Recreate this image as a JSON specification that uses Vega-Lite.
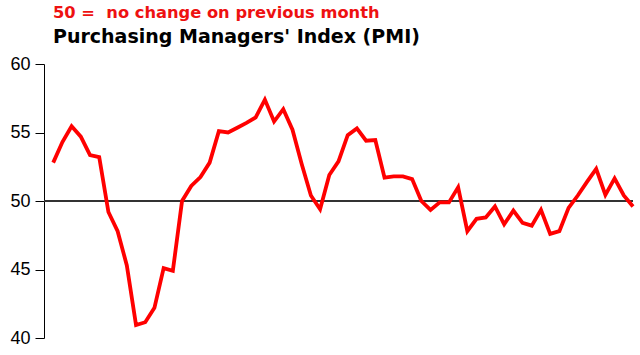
{
  "$schema": "https://vega.github.io/schema/vega-lite/v6.json",
  "autosize": {"type": "none"},
  "width": 589,
  "height": 274,
  "padding": {"left": 44, "top": 64, "right": 7, "bottom": 17},
  "background": "white",
  "title": {
    "text": "50 =\u00a0 no change on previous month",
    "subtitle": "Purchasing Managers' Index (PMI)",
    "anchor": "start",
    "frame": "group",
    "dx": 9,
    "offset": 8.5,
    "font": "DejaVu Sans",
    "fontSize": 16.3,
    "fontWeight": "bold",
    "color": "#ee1111",
    "subtitleFont": "DejaVu Sans",
    "subtitleFontSize": 19,
    "subtitleFontWeight": "bold",
    "subtitleColor": "#000000",
    "subtitlePadding": 6.5
  },
  "data": {
    "values": [
      {"i": 1, "pmi": 52.8}, {"i": 2, "pmi": 54.3}, {"i": 3, "pmi": 55.45}, {"i": 4, "pmi": 54.7},
      {"i": 5, "pmi": 53.35}, {"i": 6, "pmi": 53.2}, {"i": 7, "pmi": 49.2}, {"i": 8, "pmi": 47.8},
      {"i": 9, "pmi": 45.3}, {"i": 10, "pmi": 40.95}, {"i": 11, "pmi": 41.15}, {"i": 12, "pmi": 42.2},
      {"i": 13, "pmi": 45.1}, {"i": 14, "pmi": 44.9}, {"i": 15, "pmi": 50.0}, {"i": 16, "pmi": 51.1},
      {"i": 17, "pmi": 51.75}, {"i": 18, "pmi": 52.8}, {"i": 19, "pmi": 55.1}, {"i": 20, "pmi": 55.0},
      {"i": 21, "pmi": 55.35}, {"i": 22, "pmi": 55.7}, {"i": 23, "pmi": 56.1}, {"i": 24, "pmi": 57.4},
      {"i": 25, "pmi": 55.8}, {"i": 26, "pmi": 56.7}, {"i": 27, "pmi": 55.2}, {"i": 28, "pmi": 52.7},
      {"i": 29, "pmi": 50.4}, {"i": 30, "pmi": 49.4}, {"i": 31, "pmi": 51.9}, {"i": 32, "pmi": 52.9},
      {"i": 33, "pmi": 54.8}, {"i": 34, "pmi": 55.3}, {"i": 35, "pmi": 54.4}, {"i": 36, "pmi": 54.45},
      {"i": 37, "pmi": 51.7}, {"i": 38, "pmi": 51.8}, {"i": 39, "pmi": 51.8}, {"i": 40, "pmi": 51.6},
      {"i": 41, "pmi": 50.0}, {"i": 42, "pmi": 49.35}, {"i": 43, "pmi": 49.9}, {"i": 44, "pmi": 49.9},
      {"i": 45, "pmi": 51.0}, {"i": 46, "pmi": 47.8}, {"i": 47, "pmi": 48.7}, {"i": 48, "pmi": 48.8},
      {"i": 49, "pmi": 49.6}, {"i": 50, "pmi": 48.3}, {"i": 51, "pmi": 49.3}, {"i": 52, "pmi": 48.4},
      {"i": 53, "pmi": 48.2}, {"i": 54, "pmi": 49.35}, {"i": 55, "pmi": 47.6}, {"i": 56, "pmi": 47.8},
      {"i": 57, "pmi": 49.5}, {"i": 58, "pmi": 50.4}, {"i": 59, "pmi": 51.4}, {"i": 60, "pmi": 52.35},
      {"i": 61, "pmi": 50.45}, {"i": 62, "pmi": 51.65}, {"i": 63, "pmi": 50.4}, {"i": 64, "pmi": 49.6}
    ]
  },
  "config": {
    "view": {"stroke": null},
    "axis": {"grid": false}
  },
  "layer": [
    {
      "mark": {"type": "rule", "color": "#333333", "strokeWidth": 1.5},
      "encoding": {"y": {"datum": 50, "type": "quantitative", "scale": {"domain": [40, 60]}}}
    },
    {
      "mark": {"type": "line", "color": "#ff0000", "strokeWidth": 3.8, "strokeJoin": "miter", "strokeCap": "butt"},
      "encoding": {
        "x": {"field": "i", "type": "quantitative", "scale": {"domain": [0, 64], "nice": false, "zero": false}, "axis": null},
        "y": {
          "field": "pmi", "type": "quantitative",
          "scale": {"domain": [40, 60], "nice": false, "zero": false},
          "axis": {
            "values": [40, 45, 50, 55, 60],
            "title": null,
            "domainColor": "#000000",
            "domainWidth": 1,
            "tickColor": "#000000",
            "tickWidth": 1,
            "tickSize": 9,
            "labelPadding": 5,
            "labelFont": "Liberation Sans",
            "labelFontSize": 18,
            "labelColor": "#000000"
          }
        }
      }
    }
  ]
}
